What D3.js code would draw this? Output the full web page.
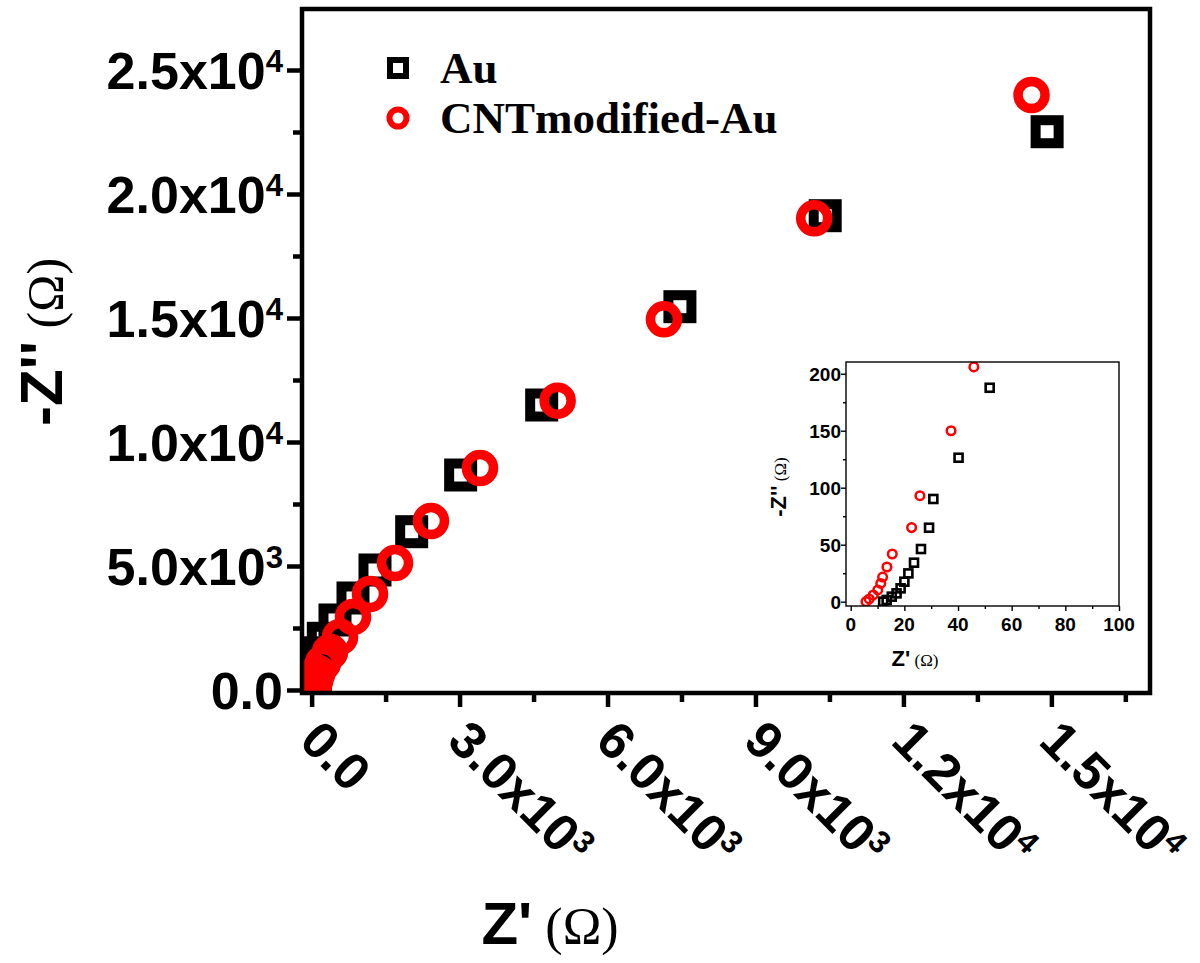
<!DOCTYPE html>
<html>
<head>
<meta charset="utf-8">
<script src="https://cdn.jsdelivr.net/npm/d3@7"></script>
<style>
  html, body { margin: 0; padding: 0; background: #fff; }
  svg { display: block; }
</style>
</head>
<body>
<div id="chart"></div>
<script>
// Au electrode, Nyquist points (Z', -Z'') in ohm
const auZre = [12.1, 13.4, 15.3, 17.1, 18.6, 20.0, 21.5, 23.6, 26.2, 29.2, 30.8, 40.2, 51.8,
  60, 75, 100, 150, 237, 474, 839, 1285, 2029, 3022, 4665, 7468, 10414, 14914];
const auZim = [0, 1.5, 4.4, 7.3, 11.7, 17.5, 24.8, 34.2, 46.2, 64.9, 90.1, 126.3, 187.7,
  330, 600, 1000, 1500, 2085, 2823, 3710, 4839, 6383, 8669, 11492, 15456, 19125, 22512];

// CNT modified Au electrode
const cntZre = [5.7, 6.9, 8.4, 10.1, 11.2, 11.9, 13.5, 15.5, 22.7, 25.8, 37.4, 45.9,
  75, 120, 231, 373, 576, 839, 1184, 1691, 2420, 3414, 4989, 7144, 10191, 14598];
const cntZim = [0, 2.4, 5.9, 10.3, 16, 21.6, 30.4, 41.8, 65, 93, 150, 206,
  400, 700, 1089, 1532, 2137, 2944, 3871, 5121, 6815, 8952, 11665, 14948, 19020, 23992];

const seriesNames = ["Au", "CNTmodified-Au"];
const seriesColors = ["#000000", "#ff0000"];

// main axes ticks
const mainXTicks = [0, 3000, 6000, 9000, 12000, 15000];
const mainYTicks = [0, 5000, 10000, 15000, 20000, 25000];
// inset axes ticks
const insetXTicks = [0, 20, 40, 60, 80, 100];
const insetYTicks = [0, 50, 100, 150, 200];

const W = 1200, H = 963;
const sans = "'Liberation Sans', Arial, sans-serif";
const serif = "'Liberation Serif', 'Times New Roman', serif";

const au = auZre.map((v, i) => ({x: v, y: auZim[i]}));
const cnt = cntZre.map((v, i) => ({x: v, y: cntZim[i]}));

const svg = d3.select("#chart").append("svg")
  .attr("width", W).attr("height", H);

// ---------- main plot ----------
const m = {left: 302, right: 1150, top: 9, bottom: 693};
const x = d3.scaleLinear().domain([-195, 17000]).range([m.left, m.right]);
const y = d3.scaleLinear().domain([-121, 27460]).range([m.bottom, m.top]);

svg.append("clipPath").attr("id", "clipMain")
  .append("rect").attr("x", m.left).attr("y", m.top)
  .attr("width", m.right - m.left).attr("height", m.bottom - m.top);

const marks = svg.append("g").attr("clip-path", "url(#clipMain)");

// squares for Au
marks.append("g").selectAll("rect")
  .data(au).join("rect")
  .attr("x", d => x(d.x) - 11.5)
  .attr("y", d => y(d.y) - 11.5)
  .attr("width", 23).attr("height", 23)
  .attr("fill", "none")
  .attr("stroke", seriesColors[0])
  .attr("stroke-width", 10);

// circles for CNT
marks.append("g").selectAll("circle")
  .data(cnt).join("circle")
  .attr("cx", d => x(d.x))
  .attr("cy", d => y(d.y))
  .attr("r", 13.5)
  .attr("fill", "none")
  .attr("stroke", seriesColors[1])
  .attr("stroke-width", 9.5);

// frame
svg.append("rect")
  .attr("x", m.left).attr("y", m.top)
  .attr("width", m.right - m.left).attr("height", m.bottom - m.top)
  .attr("fill", "none").attr("stroke", "#000").attr("stroke-width", 4.5);

// ticks (major + minor) via axes
const xMinor = d3.range(0, 16501, 1500).filter(v => !mainXTicks.includes(v));
const yMinor = d3.range(0, 27001, 2500).filter(v => !mainYTicks.includes(v));

function styleAxis(g, w) {
  g.select(".domain").remove();
  g.selectAll(".tick line").attr("stroke", "#000").attr("stroke-width", w);
  g.selectAll(".tick text").remove();
}

svg.append("g").attr("transform", `translate(0,${m.bottom})`)
  .call(d3.axisBottom(x).tickValues(mainXTicks).tickSize(14))
  .call(g => styleAxis(g, 4.5));
svg.append("g").attr("transform", `translate(0,${m.bottom})`)
  .call(d3.axisBottom(x).tickValues(xMinor).tickSize(9))
  .call(g => styleAxis(g, 4.5));
svg.append("g").attr("transform", `translate(${m.left},0)`)
  .call(d3.axisLeft(y).tickValues(mainYTicks).tickSize(15))
  .call(g => styleAxis(g, 4.5));
svg.append("g").attr("transform", `translate(${m.left},0)`)
  .call(d3.axisLeft(y).tickValues(yMinor).tickSize(9))
  .call(g => styleAxis(g, 4.5));

// scientific labels like 2.5x10^4
function sci(sel, v) {
  if (v === 0) { sel.text("0.0"); return; }
  const e = Math.floor(Math.log10(v));
  const mant = (v / Math.pow(10, e)).toFixed(1);
  sel.append("tspan").text(mant + "x10");
  sel.append("tspan").attr("dy", "-0.55em").attr("font-size", "0.6em").text(e);
}

svg.append("g").selectAll("text")
  .data(mainYTicks).join("text")
  .attr("x", 283)
  .attr("y", d => y(d) + 19)
  .attr("text-anchor", "end")
  .attr("font-family", sans).attr("font-weight", "bold")
  .attr("font-size", 52)
  .each(function(d) { sci(d3.select(this), d); });

svg.append("g").selectAll("text")
  .data(mainXTicks).join("text")
  .attr("transform", d => `translate(${x(d) - 14},${743}) rotate(45)`)
  .attr("text-anchor", "start")
  .attr("font-family", sans).attr("font-weight", "bold")
  .attr("font-size", 52)
  .each(function(d) { sci(d3.select(this), d); });

// axis titles
const xt = svg.append("text")
  .attr("x", 550).attr("y", 944)
  .attr("text-anchor", "middle");
xt.append("tspan").attr("font-family", sans).attr("font-weight", "bold")
  .attr("font-size", 60).text("Z'");
xt.append("tspan").attr("font-family", serif).attr("font-size", 52).text(" (Ω)");

const yt = svg.append("text")
  .attr("transform", "translate(62,342) rotate(-90)")
  .attr("text-anchor", "middle");
yt.append("tspan").attr("font-family", sans).attr("font-weight", "bold")
  .attr("font-size", 60).text("-Z''");
yt.append("tspan").attr("font-family", serif).attr("font-size", 50).text(" (Ω)");

// legend
const legend = svg.append("g");
const legY = [68, 118];
legend.append("rect")
  .attr("x", 398 - 8).attr("y", legY[0] - 8)
  .attr("width", 16).attr("height", 16)
  .attr("fill", "none").attr("stroke", seriesColors[0]).attr("stroke-width", 6);
legend.append("circle")
  .attr("cx", 398).attr("cy", legY[1]).attr("r", 8.5)
  .attr("fill", "none").attr("stroke", seriesColors[1]).attr("stroke-width", 6);
legend.selectAll("text")
  .data(seriesNames).join("text")
  .attr("x", 440)
  .attr("y", (d, i) => legY[i] + 15)
  .attr("font-family", serif).attr("font-weight", "bold")
  .attr("font-size", 45)
  .text(d => d);

// ---------- inset ----------
const n = {left: 846, right: 1119, top: 362, bottom: 606};
const xi = d3.scaleLinear().domain([-1.75, 100]).range([n.left, n.right]);
const yi = d3.scaleLinear().domain([-3.8, 210.3]).range([n.bottom, n.top]);

svg.append("rect")
  .attr("x", n.left).attr("y", n.top)
  .attr("width", n.right - n.left).attr("height", n.bottom - n.top)
  .attr("fill", "#fff").attr("stroke", "none");

svg.append("clipPath").attr("id", "clipInset")
  .append("rect").attr("x", n.left).attr("y", n.top)
  .attr("width", n.right - n.left).attr("height", n.bottom - n.top);

const im = svg.append("g").attr("clip-path", "url(#clipInset)");
im.append("g").selectAll("rect")
  .data(au.filter(d => d.x <= 100 && d.y <= 210)).join("rect")
  .attr("x", d => xi(d.x) - 4)
  .attr("y", d => yi(d.y) - 4)
  .attr("width", 8).attr("height", 8)
  .attr("fill", "none").attr("stroke", seriesColors[0]).attr("stroke-width", 2.6);
im.append("g").selectAll("circle")
  .data(cnt.filter(d => d.x <= 100 && d.y <= 210)).join("circle")
  .attr("cx", d => xi(d.x))
  .attr("cy", d => yi(d.y))
  .attr("r", 4.3)
  .attr("fill", "none").attr("stroke", seriesColors[1]).attr("stroke-width", 2.5);

svg.append("rect")
  .attr("x", n.left).attr("y", n.top)
  .attr("width", n.right - n.left).attr("height", n.bottom - n.top)
  .attr("fill", "none").attr("stroke", "#000").attr("stroke-width", 1.4);

const xiMinor = d3.range(10, 100, 20);
const yiMinor = d3.range(25, 210, 50);
svg.append("g").attr("transform", `translate(0,${n.bottom})`)
  .call(d3.axisBottom(xi).tickValues(insetXTicks).tickSize(5))
  .call(g => styleAxis(g, 1.4));
svg.append("g").attr("transform", `translate(0,${n.bottom})`)
  .call(d3.axisBottom(xi).tickValues(xiMinor).tickSize(3))
  .call(g => styleAxis(g, 1.4));
svg.append("g").attr("transform", `translate(${n.left},0)`)
  .call(d3.axisLeft(yi).tickValues(insetYTicks).tickSize(5))
  .call(g => styleAxis(g, 1.4));
svg.append("g").attr("transform", `translate(${n.left},0)`)
  .call(d3.axisLeft(yi).tickValues(yiMinor).tickSize(3))
  .call(g => styleAxis(g, 1.4));

svg.append("g").selectAll("text")
  .data(insetXTicks).join("text")
  .attr("x", d => xi(d)).attr("y", 631)
  .attr("text-anchor", "middle")
  .attr("font-family", sans).attr("font-weight", "bold").attr("font-size", 19)
  .text(d => d);
svg.append("g").selectAll("text")
  .data(insetYTicks).join("text")
  .attr("x", 841).attr("y", d => yi(d) + 7)
  .attr("text-anchor", "end")
  .attr("font-family", sans).attr("font-weight", "bold").attr("font-size", 19)
  .text(d => d);

const xit = svg.append("text").attr("x", 915).attr("y", 666).attr("text-anchor", "middle");
xit.append("tspan").attr("font-family", sans).attr("font-weight", "bold").attr("font-size", 22).text("Z'");
xit.append("tspan").attr("font-family", serif).attr("font-size", 17).text(" (Ω)");

const yit = svg.append("text").attr("transform", "translate(786,487) rotate(-90)").attr("text-anchor", "middle");
yit.append("tspan").attr("font-family", sans).attr("font-weight", "bold").attr("font-size", 22).text("-Z''");
yit.append("tspan").attr("font-family", serif).attr("font-size", 17).text(" (Ω)");
</script>
</body>
</html>
